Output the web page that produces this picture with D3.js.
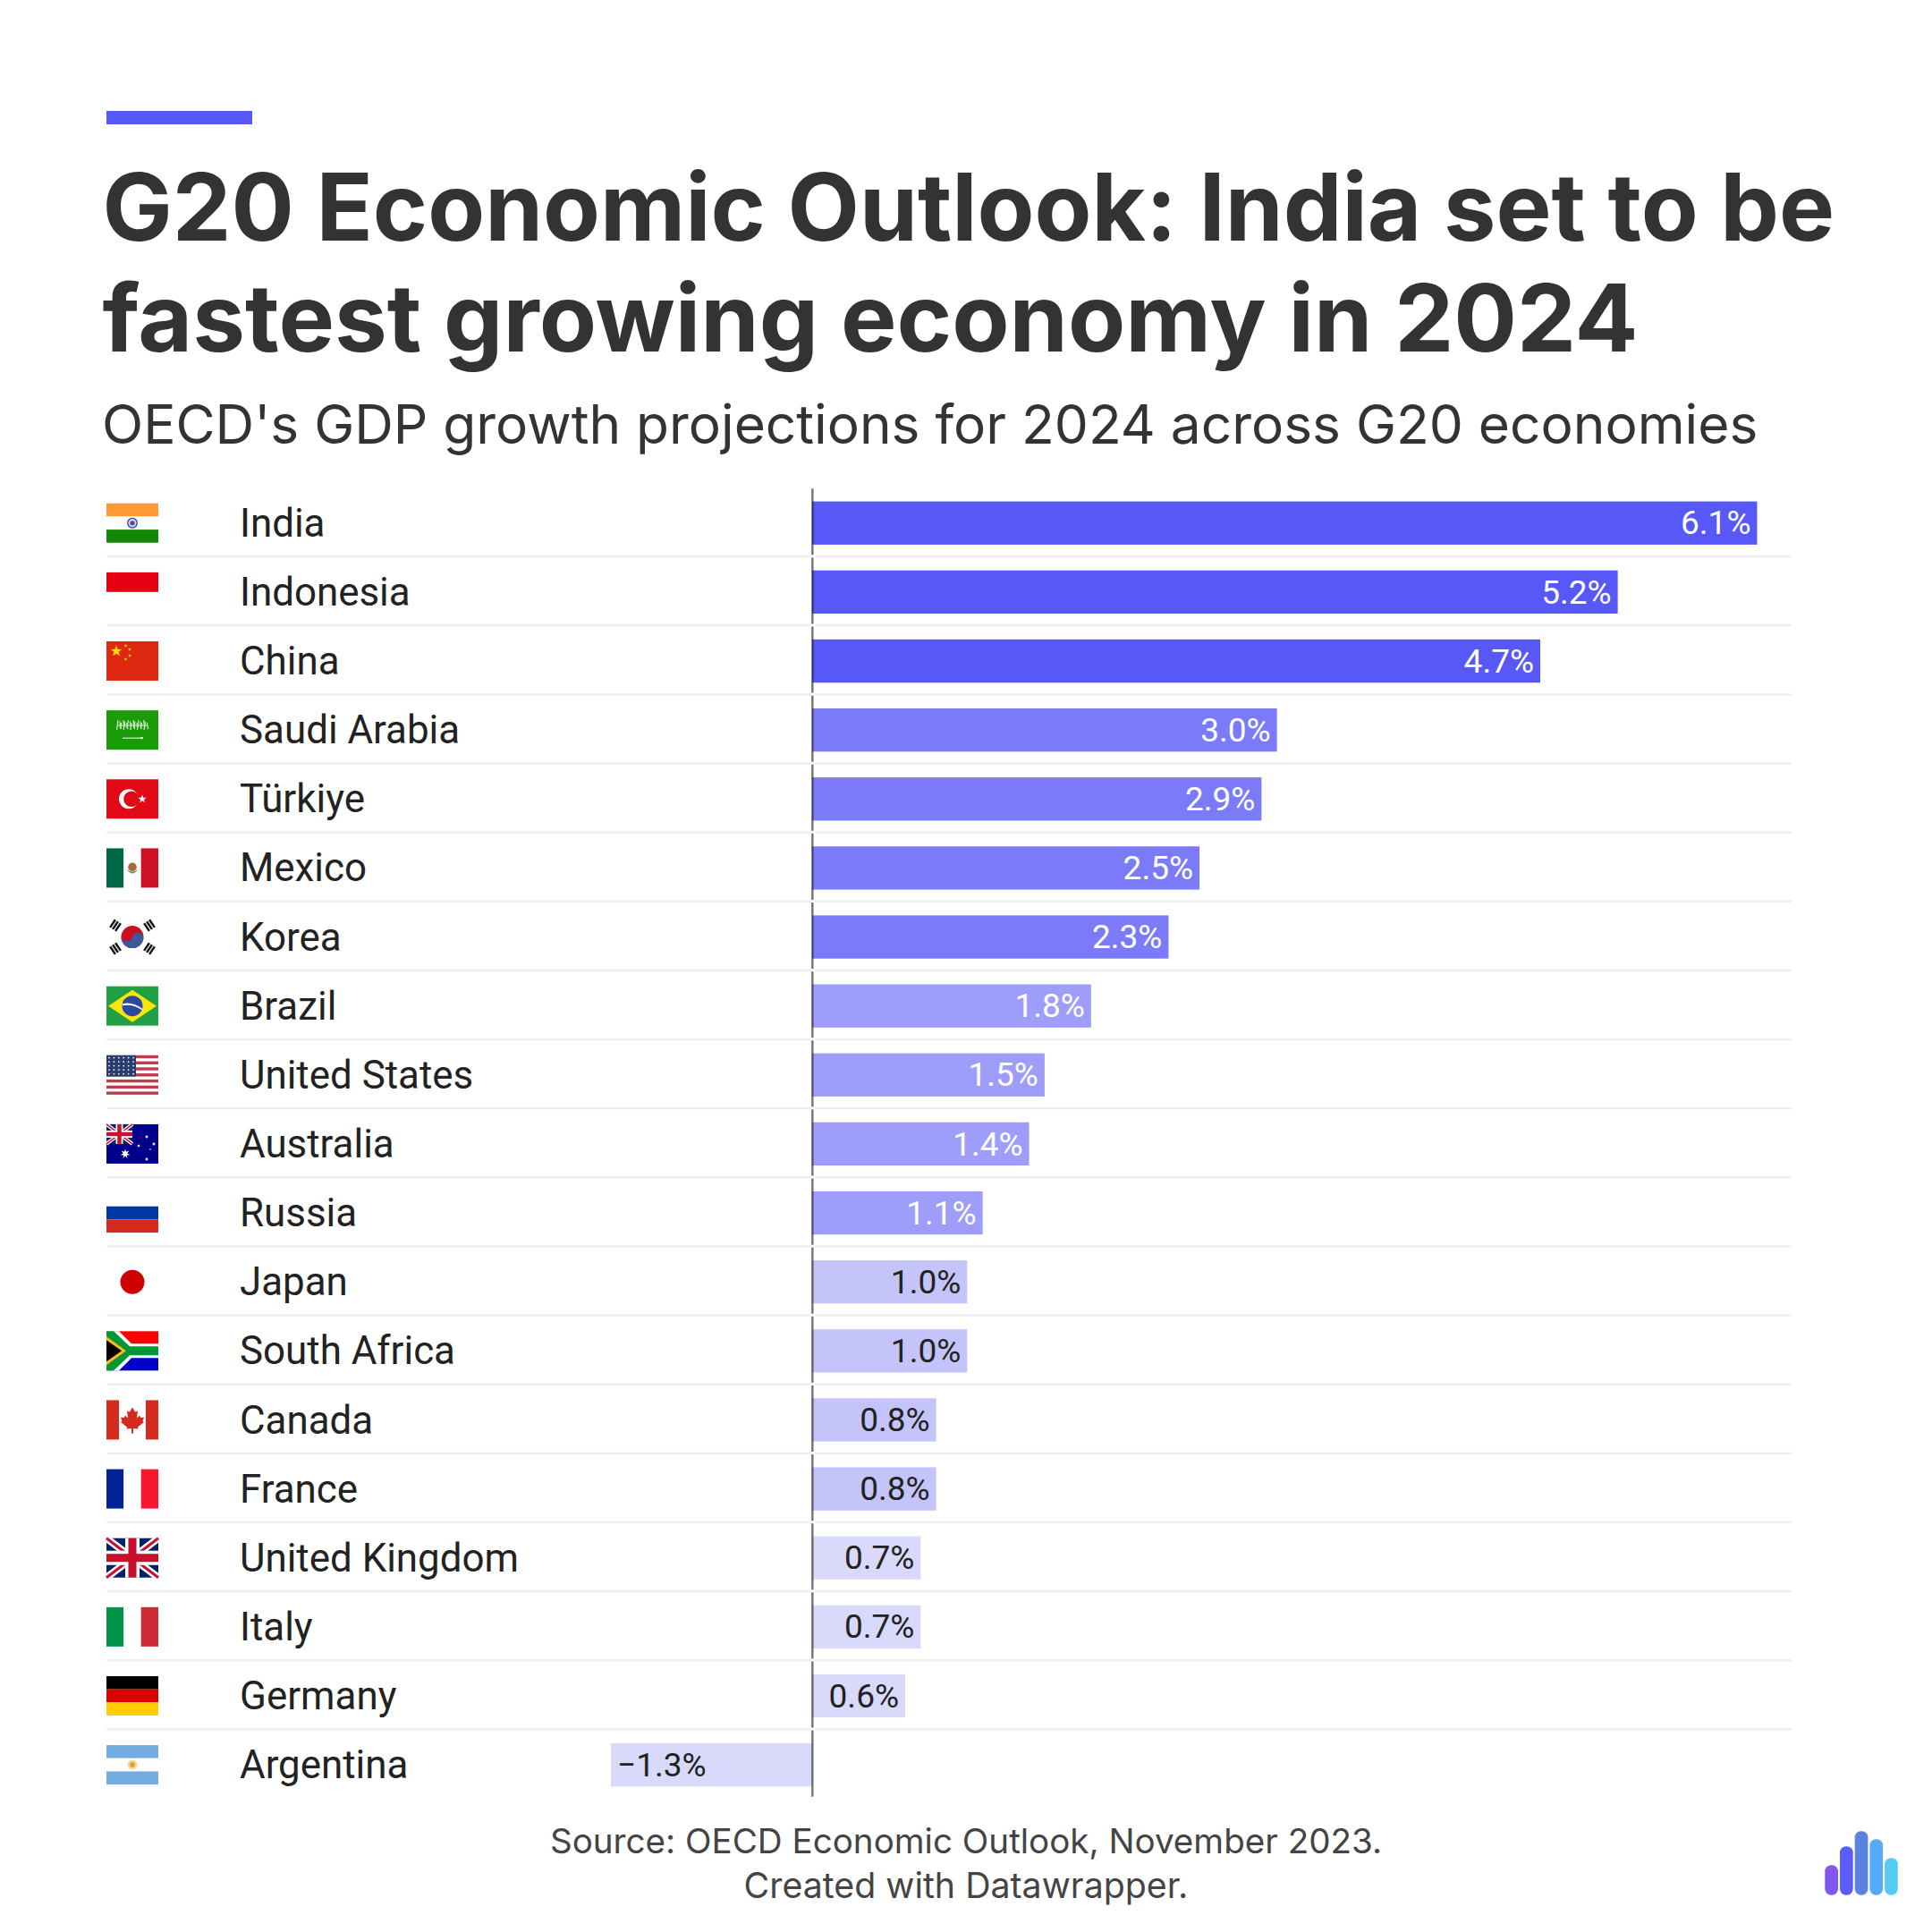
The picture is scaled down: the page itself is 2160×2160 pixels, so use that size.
<!DOCTYPE html>
<html>
<head>
<meta charset="utf-8">
<script src="https://cdn.jsdelivr.net/npm/d3@7"></script>
<style>
html, body { margin: 0; padding: 0; background: #fff; }
svg { display: block; }
</style>
</head>
<body>
<div id="chart"></div>
<script>
// values
var countries = ["India", "Indonesia", "China", "Saudi Arabia", "Türkiye", "Mexico", "Korea", "Brazil", "United States",
	"Australia", "Russia", "Japan", "South Africa", "Canada", "France", "United Kingdom", "Italy", "Germany", "Argentina"];
var growth = [6.1, 5.2, 4.7, 3.0, 2.9, 2.5, 2.3, 1.8, 1.5, 1.4, 1.1, 1.0, 1.0, 0.8, 0.8, 0.7, 0.7, 0.6, -1.3];
var titleLines = ["G20 Economic Outlook: India set to be", "fastest growing economy in 2024"];
var titleSizes = [104.3, 105];
var subtitle = "OECD's GDP growth projections for 2024 across G20 economies";
var sourceLines = ["Source: OECD Economic Outlook, November 2023.", "Created with Datawrapper."];
var sourceSizes = [38.6, 39.3];
var tierLimits = [0.75, 1.05, 2, 4];
var tierColors = ["#d9d9fb", "#c4c4fb", "#9e9efa", "#7b7bfa", "#5858f8"];
var logoHeights = [33.5, 54.5, 71.5, 62.5, 41.5];
var logoColors = ["#7f57ee", "#5a5cfb", "#5b82e0", "#56aafa", "#55cdf2"];

var size = 2160;
var svg = d3.select("#chart").append("svg").attr("width", size).attr("height", size);
svg.append("rect").attr("width", size).attr("height", size).attr("fill", "#fff");

var x = d3.scaleLinear().domain([-1.3, 6.1]).range([683, 1964.5]);
var y = d3.scaleBand().domain(countries).range([546.2, 546.2 + 77.13 * countries.length]);
var color = d3.scaleThreshold().domain(tierLimits).range(tierColors);
var barHeight = 48.3;
var flagW = 58, flagH = 44;

// header
svg.append("rect").attr("x", 119).attr("y", 124).attr("width", 163).attr("height", 15).attr("fill", "#5858f8");

svg.selectAll(".title").data(titleLines).enter().append("text")
	.attr("class", "title")
	.attr("x", 114.5)
	.attr("y", function (d, i) { return 268.5 + i * 124; })
	.attr("font-family", "Inter")
	.attr("font-weight", 700)
	.attr("font-size", function (d, i) { return titleSizes[i]; })
	.attr("fill", "#333333")
	.text(function (d) { return d; });

svg.append("text")
	.attr("x", 114)
	.attr("y", 496)
	.attr("font-family", "Inter")
	.attr("font-size", 60.4)
	.attr("fill", "#333333")
	.text(subtitle);

// row separators
svg.selectAll(".sep").data(countries.slice(0, -1)).enter().append("rect")
	.attr("class", "sep")
	.attr("x", 119)
	.attr("y", function (d) { return y(d) + y.bandwidth() - 2.4; })
	.attr("width", 2003 - 119)
	.attr("height", 2.4)
	.attr("fill", "#eeeeee");

// white slot so that the separators stop at the zero line
svg.append("rect").attr("x", x(0) - 2).attr("y", y.range()[0]).attr("width", 5).attr("height", 1470).attr("fill", "#fff");

var rows = svg.selectAll(".row").data(countries).enter().append("g").attr("class", "row");

rows.append("text")
	.attr("x", 268)
	.attr("y", function (d) { return y(d) + y.bandwidth() / 2 - 0.5; })
	.attr("dy", "0.355em")
	.attr("font-family", "Roboto")
	.attr("font-size", 43.9)
	.attr("fill", "#222222")
	.text(function (d) { return d; });

rows.append("rect")
	.attr("x", function (d, i) { return Math.min(x(0), x(growth[i])); })
	.attr("y", function (d) { return y(d) + (y.bandwidth() - barHeight) / 2; })
	.attr("width", function (d, i) { return Math.abs(x(growth[i]) - x(0)); })
	.attr("height", barHeight)
	.attr("fill", function (d, i) { return color(growth[i]); });

rows.append("text")
	.attr("x", function (d, i) { return growth[i] < 0 ? x(growth[i]) + 7 : x(growth[i]) - 7; })
	.attr("y", function (d) { return y(d) + y.bandwidth() / 2 - 0.5; })
	.attr("dy", "0.355em")
	.attr("text-anchor", function (d, i) { return growth[i] < 0 ? "start" : "end"; })
	.attr("font-family", "Roboto")
	.attr("font-size", 37)
	.attr("fill", function (d, i) { return growth[i] >= 1.1 ? "#ffffff" : "#222222"; })
	.text(function (d, i) { return d3.format(".1f")(growth[i]) + "%"; });

// zero line, one piece per row
rows.append("rect")
	.attr("x", x(0) - 1)
	.attr("y", function (d) { return y(d); })
	.attr("width", 2.4)
	.attr("height", y.bandwidth() - 3)
	.attr("fill", "#000")
	.attr("fill-opacity", 0.55);

// flag helpers, everything in a 58x44 box
function box(g, px, py, w, h, fill) {
	return g.append("rect").attr("x", px).attr("y", py).attr("width", w).attr("height", h).attr("fill", fill);
}
function dot(g, cx, cy, r, fill) {
	return g.append("circle").attr("cx", cx).attr("cy", cy).attr("r", r).attr("fill", fill);
}
function path(g, d, fill) {
	return g.append("path").attr("d", d).attr("fill", fill);
}
function bar(g, x1, y1, x2, y2, w, stroke) {
	return g.append("line").attr("x1", x1).attr("y1", y1).attr("x2", x2).attr("y2", y2)
		.attr("stroke", stroke).attr("stroke-width", w);
}
function star(g, cx, cy, r, fill, points) {
	var n = points || 5, d = "";
	for (var i = 0; i < n * 2; i++) {
		var rr = i % 2 ? r * 0.42 : r;
		var a = -Math.PI / 2 + i * Math.PI / n;
		d += (i ? "L" : "M") + (cx + rr * Math.cos(a)) + " " + (cy + rr * Math.sin(a));
	}
	return path(g, d + "Z", fill);
}
function hStripes(g, cols) {
	var h = flagH / cols.length;
	cols.forEach(function (c, i) { box(g, 0, i * h, flagW, h, c); });
}
function vStripes(g, cols) {
	var w = flagW / cols.length;
	cols.forEach(function (c, i) { box(g, i * w, 0, w, flagH, c); });
}
function unionJack(g, w, h) {
	var j = g.append("g").attr("transform", "scale(" + (w / 58) + "," + (h / 44) + ")");
	box(j, 0, 0, 58, 44, "#012169");
	bar(j, 0, 0, 58, 44, 8, "#fff");
	bar(j, 58, 0, 0, 44, 8, "#fff");
	bar(j, 0, 0, 58, 44, 3, "#c8102e");
	bar(j, 58, 0, 0, 44, 3, "#c8102e");
	box(j, 21, 0, 16, 44, "#fff");
	box(j, 0, 14, 58, 16, "#fff");
	box(j, 24.5, 0, 9, 44, "#c8102e");
	box(j, 0, 17.5, 58, 9, "#c8102e");
}

var flags = {
	"India": function (g) {
		hStripes(g, ["#ff9933", "#ffffff", "#128807"]);
		g.append("circle").attr("cx", 29).attr("cy", 22).attr("r", 5.3).attr("fill", "#d8d8f0").attr("stroke", "#3a3aa0").attr("stroke-width", 1.3);
		dot(g, 29, 22, 2.6, "#4a4aa8");
	},
	"Indonesia": function (g) { hStripes(g, ["#e70011", "#ffffff"]); },
	"China": function (g) {
		box(g, 0, 0, 58, 44, "#de2910");
		star(g, 11, 11, 6.5, "#ffde00");
		star(g, 21.5, 5, 2, "#ffde00");
		star(g, 26, 9, 2, "#ffde00");
		star(g, 26, 16, 2, "#ffde00");
		star(g, 21.5, 20, 2, "#ffde00");
	},
	"Saudi Arabia": function (g) {
		box(g, 0, 0, 58, 44, "#1a9c06");
		// calligraphy is only a pale scribble at this size
		d3.range(13, 46, 1.9).forEach(function (px, i) {
			bar(g, px, 11 + (i % 3) * 1.5, px + (i % 2 ? 1.4 : -1.4), 22 - (i % 4), 1.1, "#e4f2de");
		});
		bar(g, 13, 17, 45, 17, 1.2, "#c8e8bc");
		bar(g, 18, 31, 41, 31, 1, "#fff");
		bar(g, 38, 31, 41, 31, 2, "#fff");
	},
	"Türkiye": function (g) {
		box(g, 0, 0, 58, 44, "#e30a17");
		dot(g, 25, 22, 11, "#fff");
		dot(g, 28, 22, 8.8, "#e30a17");
		star(g, 40, 22, 4.8, "#fff");
	},
	"Mexico": function (g) {
		vStripes(g, ["#006847", "#ffffff", "#ce1126"]);
		dot(g, 29, 21, 4.8, "#a8683a");
		path(g, "M22.5 23 Q29 33 35.5 23 Q29 29 22.5 23Z", "#5a9a6a");
	},
	"Korea": function (g) {
		box(g, 0, 0, 58, 44, "#fff");
		dot(g, 29, 22, 12.5, "#cd0e1f");
		path(g, "M16.6 20 A12.5 12.5 0 0 0 41.4 24 A6.3 6.3 0 0 0 29 22 A6.3 6.3 0 0 1 16.6 20Z", "#3b5a9c");
		[[-1, -1], [1, -1], [-1, 1], [1, 1]].forEach(function (s) {
			var tg = g.append("g").attr("transform", "translate(" + (29 + s[0] * 19) + "," + (22 + s[1] * 13) + ") rotate(" + (-s[0] * s[1] * 56) + ")");
			[-3.6, 0, 3.6].forEach(function (dy) { box(tg, -5.2, dy - 1.2, 10.4, 2.4, "#111"); });
		});
	},
	"Brazil": function (g) {
		box(g, 0, 0, 58, 44, "#229e45");
		path(g, "M2 22 L29 4 L56 22 L29 40Z", "#f8e509");
		dot(g, 29, 22, 11.5, "#2b49a3");
		path(g, "M18 19.5 Q29 17 40 25 L39.6 26.5 Q29 19.5 18 21.5Z", "#fff");
	},
	"United States": function (g) {
		box(g, 0, 0, 58, 44, "#fff");
		d3.range(0, 13, 2).forEach(function (i) { box(g, 0, i * 44 / 13, 58, 44 / 13, "#bf3a4a"); });
		box(g, 0, 0, 33, 23.7, "#2b3c6e");
		d3.range(0, 5).forEach(function (r) {
			d3.range(0, 6).forEach(function (c) { dot(g, 3 + c * 5.4, 2.8 + r * 4.5, 0.9, "#fff"); });
		});
	},
	"Australia": function (g) {
		box(g, 0, 0, 58, 44, "#00008b");
		unionJack(g, 29, 22);
		star(g, 21, 33, 5.5, "#fff", 7);
		star(g, 45, 14, 2.2, "#fff", 7);
		star(g, 36, 24, 2, "#fff", 7);
		star(g, 53, 22, 2.2, "#fff", 7);
		star(g, 49, 28, 1.2, "#fff", 5);
		star(g, 45, 39, 2.2, "#fff", 7);
	},
	"Russia": function (g) { hStripes(g, ["#ffffff", "#0039a6", "#d52b1e"]); },
	"Japan": function (g) { box(g, 0, 0, 58, 44, "#fff"); dot(g, 29, 22, 13.5, "#cf0000"); },
	"South Africa": function (g) {
		box(g, 0, 0, 58, 22, "#ff0000");
		box(g, 0, 22, 58, 22, "#0000c8");
		path(g, "M0 0 H14 L28 14 H58 V30 H28 L14 44 H0Z", "#fff");
		path(g, "M0 0 H8 L26 17 H58 V27 H26 L8 44 H0Z", "#009739");
		path(g, "M0 6 L22 22 L0 38Z", "#ffb81c");
		path(g, "M0 10 L17 22 L0 34Z", "#000");
	},
	"Canada": function (g) {
		box(g, 0, 0, 58, 44, "#fff");
		box(g, 0, 0, 14, 44, "#d52b1e");
		box(g, 44, 0, 14, 44, "#d52b1e");
		path(g, "M29 8 L32 13 L35 12 L34 20 L37 17 L38.5 19.5 L42 19 L40.5 23.5 L42 24.5 L35 30 L35.5 32 L30 31.5 L30 37 L28 37 L28 31.5 L22.5 32 L23 30 L16 24.5 L17.5 23.5 L16 19 L19.5 19.5 L21 17 L24 20 L23 12 L26 13Z", "#d52b1e");
	},
	"France": function (g) { vStripes(g, ["#002395", "#ffffff", "#f7182f"]); },
	"United Kingdom": function (g) { unionJack(g, 58, 44); },
	"Italy": function (g) { vStripes(g, ["#009246", "#ffffff", "#ce2b37"]); },
	"Germany": function (g) { hStripes(g, ["#000000", "#dd0000", "#ffce00"]); },
	"Argentina": function (g) {
		hStripes(g, ["#74acdf", "#ffffff", "#74acdf"]);
		dot(g, 29, 22, 5.5, "#f3d9a8");
		dot(g, 29, 22, 3, "#e5a51e");
	}
};

rows.append("g")
	.attr("transform", function (d) { return "translate(119," + (y(d) + y.bandwidth() / 2 - flagH / 2) + ")"; })
	.each(function (d) { flags[d](d3.select(this)); });

// footer
svg.selectAll(".source").data(sourceLines).enter().append("text")
	.attr("class", "source")
	.attr("x", 1080)
	.attr("y", function (d, i) { return 2071.6 + i * 50.5; })
	.attr("text-anchor", "middle")
	.attr("font-family", "Inter")
	.attr("font-size", function (d, i) { return sourceSizes[i]; })
	.attr("fill", "#444444")
	.text(function (d) { return d; });

// datawrapper logo
svg.selectAll(".logo").data(logoHeights).enter().append("rect")
	.attr("class", "logo")
	.attr("x", function (d, i) { return 2040.3 + i * 16.7; })
	.attr("y", function (d) { return 2118.7 - d; })
	.attr("width", 14.7)
	.attr("height", function (d) { return d; })
	.attr("rx", 7)
	.attr("fill", function (d, i) { return logoColors[i]; });
</script>
</body>
</html>
